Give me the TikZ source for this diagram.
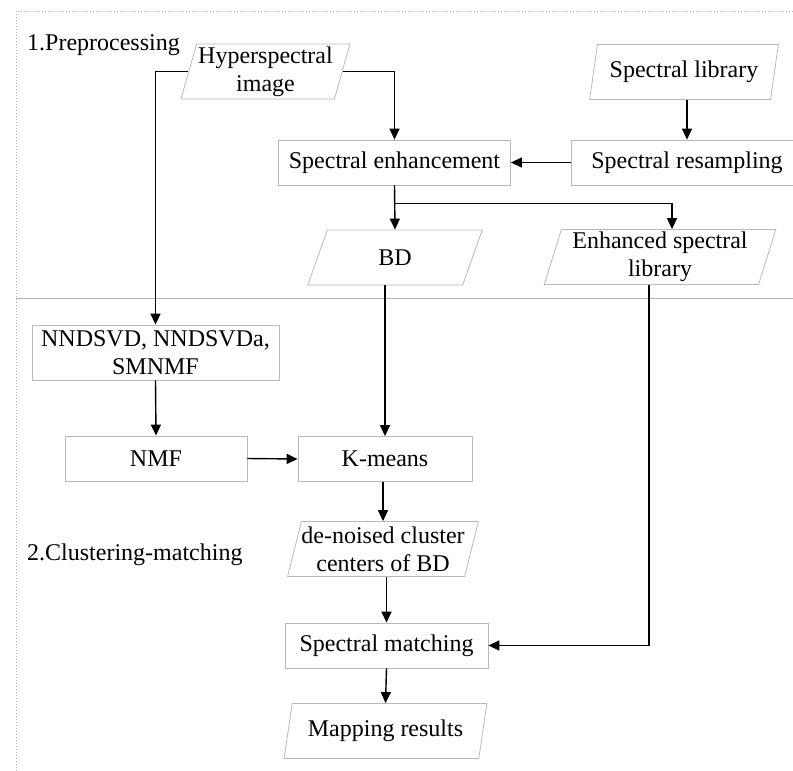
\documentclass[tikz,border=0pt]{standalone}
\usepackage{fontspec}
\setmainfont{Liberation Serif}
\usetikzlibrary{shapes.geometric,arrows.meta}

\begin{document}
\begin{tikzpicture}[x=1pt,y=-1pt,
  every node/.style={font=\fontsize{24}{28}\selectfont, align=center},
  box/.style={draw=gray!55, line width=0.8pt, minimum height=45pt, inner sep=0pt},
  data/.style={trapezium, trapezium left angle=73, trapezium right angle=107,
    trapezium stretches=true, draw=gray!55, line width=0.8pt,
    minimum height=55pt, inner sep=0pt},
  arr/.style={-{Triangle[length=11pt,width=10pt]}, line width=1.4pt}]
  \useasboundingbox (0,0) rectangle (793,771);
  % frame and separator
  \draw[gray!60, dotted, line width=1pt] (16,771) -- (16,11) -- (793,11);
  \draw[gray!60, line width=0.8pt] (16,298) -- (793,298);
  \node[anchor=west, inner sep=0pt] (stepa) at (27,45) {1.Preprocessing};
  \node[anchor=west, inner sep=0pt] (stepb) at (27,555) {2.Clustering-matching};

  % 1. preprocessing
  \node[data, minimum width=169pt] (hyper)   at (265.5,71.5) {Hyperspectral\\image};
  \node[data, minimum width=189pt] (speclib) at (684,72)     {Spectral library};
  \node[box, minimum width=232pt]  (enh)     at (394.5,162.5) {Spectral enhancement};
  \node[box, minimum width=232pt]  (resamp)  at (687,162.5)  {Spectral resampling};
  \node[data, minimum width=175pt] (bd)      at (395,257.5)  {BD};
  \node[data, minimum width=232pt] (enhlib)  at (660,257)    {Enhanced spectral\\library};

  % 2. clustering-matching
  \node[box, minimum width=247pt, minimum height=55pt] (nndsvd) at (155.5,352.5) {NNDSVD, NNDSVDa,\\SMNMF};
  \node[box, minimum width=182pt]  (nmf)      at (156,458.5)   {NMF};
  \node[box, minimum width=174pt]  (kmeans)   at (385,459)     {K-means};
  \node[data, minimum width=188pt] (denoised) at (383,549)     {de-noised cluster\\centers of BD};
  \node[box, minimum width=203pt]  (match)    at (386.5,645.5) {Spectral matching};
  \node[data, minimum width=203pt] (mapping)  at (385.5,731)   {Mapping results};

  % connectors
  \draw[arr] (hyper.east) -| (enh.north);
  \draw[arr] (hyper.west) -| (nndsvd.north);
  \draw[arr] (speclib.south -| resamp.north) -- (resamp.north);
  \draw[arr] (resamp.west) -- (enh.east);
  \draw[arr] (enh.south) -- (bd.north);
  \draw[arr] (enh.south) -- ++(0,18) -| ([xshift=12pt]enhlib.north);
  \draw[arr] (bd.south -| kmeans.north) -- (kmeans.north);
  \draw[arr] (nndsvd.south) -- (nmf.north);
  \draw[arr] (nmf.east) -- (kmeans.west);
  \draw[arr] (kmeans.south -| denoised.north) -- (denoised.north);
  \draw[arr] (denoised.south -| match.north) -- (match.north);
  \draw[arr] ([xshift=-11pt]enhlib.south) |- (match.east);
  \draw[arr] (match.south) -- (mapping.north);
\end{tikzpicture}
\end{document}
